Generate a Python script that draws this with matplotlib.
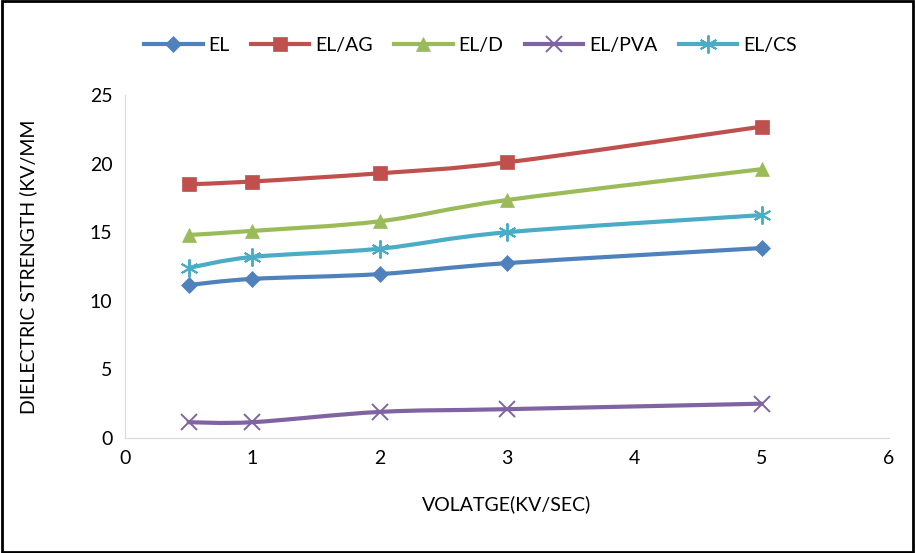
import matplotlib
matplotlib.use('Agg')
import matplotlib.pyplot as plt
from matplotlib.path import Path
from matplotlib.patches import PathPatch, Rectangle
from matplotlib.lines import Line2D

plt.rcParams['font.family'] = ['Lato', 'DejaVu Sans']

# Datos
voltage = [0.5, 1, 2, 3, 5]
el = [11.15, 11.6, 11.95, 12.75, 13.85]
el_ag = [18.5, 18.7, 19.3, 20.1, 22.7]
el_d = [14.8, 15.1, 15.8, 17.35, 19.6]
el_pva = [1.15, 1.15, 1.9, 2.1, 2.5]
el_cs = [12.4, 13.2, 13.8, 15.0, 16.25]

series = [
    ('EL', el, '#4F81BD', 'D', 8.5),
    ('EL/AG', el_ag, '#C0504D', 's', 9.5),
    ('EL/D', el_d, '#9BBB59', '^', 10),
    ('EL/PVA', el_pva, '#8064A2', 'x', 11),
    ('EL/CS', el_cs, '#4BACC6', (6, 2, 0), 13),
]


# Curva suavizada estilo Excel (Bezier a partir de los puntos)
def smooth_path(xs, ys):
    pts = list(zip(xs, ys))
    n = len(pts)
    verts = [pts[0]]
    codes = [Path.MOVETO]
    for i in range(n - 1):
        p0 = pts[i - 1] if i > 0 else pts[i]
        p1 = pts[i]
        p2 = pts[i + 1]
        p3 = pts[i + 2] if i + 2 < n else pts[i + 1]
        c1 = (p1[0] + (p2[0] - p0[0]) / 6, p1[1] + (p2[1] - p0[1]) / 6)
        c2 = (p2[0] - (p3[0] - p1[0]) / 6, p2[1] - (p3[1] - p1[1]) / 6)
        verts += [c1, c2, p2]
        codes += [Path.CURVE4] * 3
    return Path(verts, codes)


fig = plt.figure(figsize=(9.15, 5.53), dpi=100)
ax = fig.add_axes([0.1366, 0.208, 0.835, 0.62])

handles = []
for name, vals, col, mk, ms in series:
    mew = 1.4 if mk in ('x', (6, 2, 0)) else 0.5
    patch = PathPatch(smooth_path(voltage, vals), facecolor='none', edgecolor=col,
                      lw=3.0, capstyle='round', joinstyle='round')
    ax.add_patch(patch)
    ax.plot(voltage, vals, linestyle='none', marker=mk, color=col, markersize=ms,
            markeredgewidth=mew)
    handles.append(Line2D([0], [0], color=col, lw=3.0, marker=mk, markersize=ms,
                          markeredgewidth=mew, label=name))

ax.set_xlim(0, 6)
ax.set_ylim(0, 25)
ax.set_xticks(range(0, 7))
ax.set_yticks(range(0, 26, 5))
ax.tick_params(length=0, labelsize=14, pad=9)
for s in ['top', 'right']:
    ax.spines[s].set_visible(False)
for s in ['left', 'bottom']:
    ax.spines[s].set_color('#D9D9D9')

ax.set_xlabel('VOLATGE(KV/SEC)', fontsize=14, labelpad=20)
ax.set_ylabel('DIELECTRIC STRENGTH (KV/MM', fontsize=14, labelpad=38)

fig.legend(handles=handles, loc='center', bbox_to_anchor=(0.514, 0.918), ncol=5,
           frameon=False, fontsize=14, handlelength=3.0, columnspacing=1.1,
           handletextpad=0.3)

# Marco exterior
fig.patches.append(Rectangle((0.002, 0.002), 0.996, 0.996, transform=fig.transFigure,
                             fill=False, edgecolor='black', lw=2))

plt.savefig('out.png', dpi=100)
